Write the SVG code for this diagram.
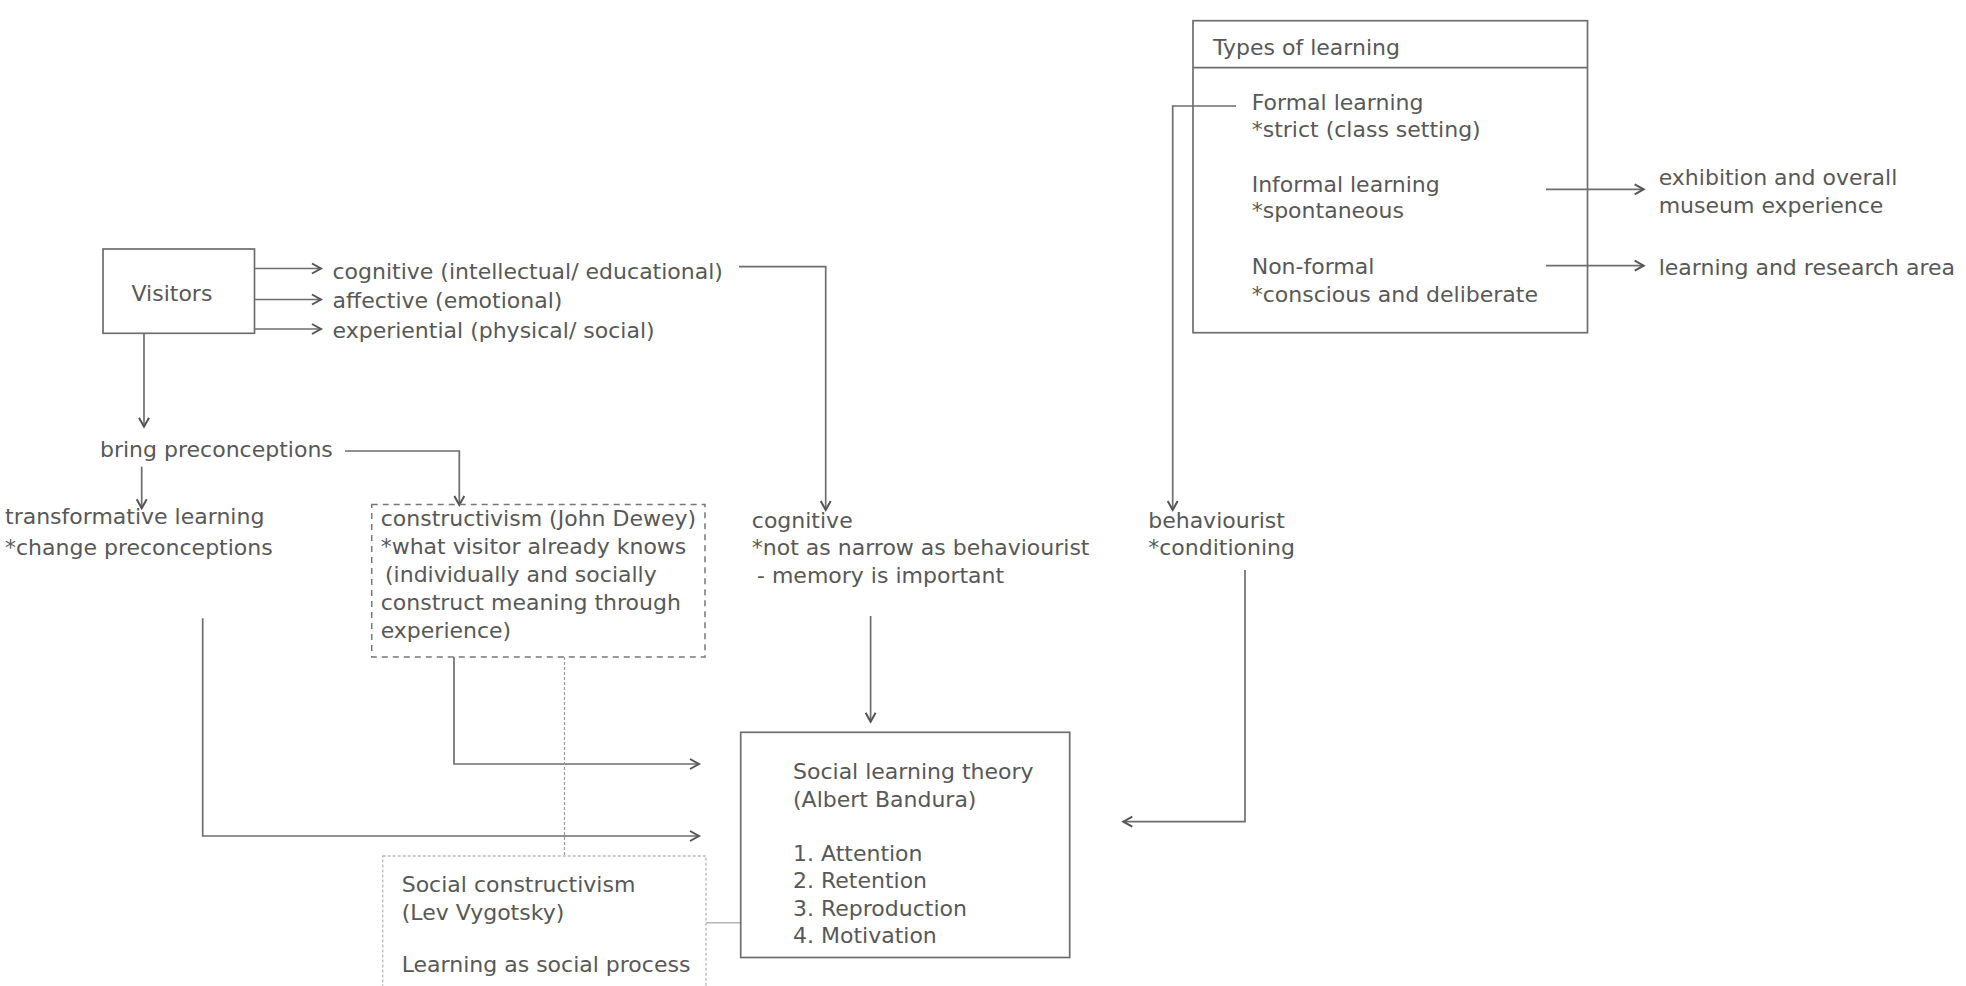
<svg xmlns="http://www.w3.org/2000/svg" width="1966" height="986" viewBox="0 0 1966 986">
<defs>
<marker id="arr" markerUnits="userSpaceOnUse" markerWidth="14" markerHeight="14" viewBox="-11 -7 13 14" refX="0" refY="0" orient="auto">
<path d="M-9,-5 L0,0 L-9,5" fill="none" stroke="#555" stroke-width="2"/>
</marker>
</defs>
<style>
text{font-family:"DejaVu Sans","Liberation Sans",sans-serif;font-size:22px;fill:#585858}
.box{fill:none;stroke:#6e6e6e;stroke-width:1.7}
.dbox{fill:none;stroke:#777;stroke-width:1.5;stroke-dasharray:6 5}
.lbox{fill:none;stroke:#bdbdbd;stroke-width:1.4;stroke-dasharray:3 2}
.ln{fill:none;stroke:#6e6e6e;stroke-width:1.7}
.ar{fill:none;stroke:#6e6e6e;stroke-width:1.7;marker-end:url(#arr)}
.dot{fill:none;stroke:#9a9a9a;stroke-width:1.2;stroke-dasharray:3 2}
.lt{fill:none;stroke:#b5b5b5;stroke-width:1.5}
</style>
<rect width="1966" height="986" fill="#ffffff"/>

<g id="connectors">
<path class="ar" d="M254.5,268.5 H321"/>
<path class="ar" d="M254.5,299.5 H321"/>
<path class="ar" d="M254.5,329 H321"/>
<path class="ar" d="M144,333.3 V426.7"/>
<path class="ar" d="M141.7,466.7 V508.3"/>
<path class="ar" d="M345,451 H459.3 V505"/>
<path class="ar" d="M739,266.7 H825.7 V510"/>
<path class="ar" d="M1236,106 H1172.7 V510"/>
<path class="ar" d="M454,657 V764 H699"/>
<path class="ar" d="M202.7,618.3 V836 H699"/>
<path class="ar" d="M870.6,616 V721.7"/>
<path class="ar" d="M1245,570 V821.7 H1123.3"/>
<path class="dot" d="M564.5,657 V856"/>
<path class="lt" d="M706,922.7 H740.7"/>
<path class="ar" d="M1546,189.3 H1643.7"/>
<path class="ar" d="M1546,265.7 H1643.7"/>
</g>

<g id="visitors">
<rect class="box" x="103" y="249" width="151.5" height="84.3"/>
<text x="131.5" y="301">Visitors</text>
</g>

<g id="visitor-outcomes">
<text x="332.5" y="279">cognitive (intellectual/ educational)</text>
<text x="332.5" y="308">affective (emotional)</text>
<text x="332.5" y="337.5">experiential (physical/ social)</text>
</g>

<g id="bring-preconceptions">
<text x="100" y="456.5">bring preconceptions</text>
</g>

<g id="transformative">
<text x="5" y="524">transformative learning</text>
<text x="5" y="555">*change preconceptions</text>
</g>

<g id="constructivism">
<rect class="dbox" x="371.7" y="504.5" width="333.3" height="152.5"/>
<text x="380.7" y="526">constructivism (John Dewey)</text>
<text x="380.7" y="554">*what visitor already knows</text>
<text x="385" y="582">(individually and socially</text>
<text x="380.7" y="610">construct meaning through</text>
<text x="380.7" y="637.5">experience)</text>
</g>

<g id="cognitive">
<text x="751.8" y="527.5">cognitive</text>
<text x="751.8" y="555">*not as narrow as behaviourist</text>
<text x="757" y="582.7">- memory is important</text>
</g>

<g id="behaviourist">
<text x="1148.2" y="527.5">behaviourist</text>
<text x="1148.2" y="555">*conditioning</text>
</g>

<g id="social-learning-theory">
<rect class="box" x="740.7" y="732.3" width="329" height="225.2"/>
<text x="793" y="779.3">Social learning theory</text>
<text x="793" y="806.7">(Albert Bandura)</text>
<text x="793" y="860.7">1. Attention</text>
<text x="793" y="888.3">2. Retention</text>
<text x="793" y="916">3. Reproduction</text>
<text x="793" y="943.3">4. Motivation</text>
</g>

<g id="social-constructivism">
<rect class="lbox" x="382.7" y="856" width="323.3" height="160"/>
<text x="401.7" y="891.7">Social constructivism</text>
<text x="401.7" y="920">(Lev Vygotsky)</text>
<text x="401.7" y="971.7">Learning as social process</text>
</g>

<g id="types-of-learning">
<rect class="box" x="1193" y="20.7" width="394.5" height="312"/>
<line class="ln" x1="1193" y1="67.7" x2="1587.5" y2="67.7"/>
<text x="1213" y="55">Types of learning</text>
<text x="1251.7" y="110">Formal learning</text>
<text x="1251.7" y="136.7">*strict (class setting)</text>
<text x="1251.7" y="191.7">Informal learning</text>
<text x="1251.7" y="218.3">*spontaneous</text>
<text x="1251.7" y="274">Non-formal</text>
<text x="1251.7" y="301.7">*conscious and deliberate</text>
</g>

<g id="exhibition">
<text x="1658.7" y="185">exhibition and overall</text>
<text x="1658.7" y="212.7">museum experience</text>
</g>

<g id="research-area">
<text x="1658.7" y="275">learning and research area</text>
</g>
</svg>
